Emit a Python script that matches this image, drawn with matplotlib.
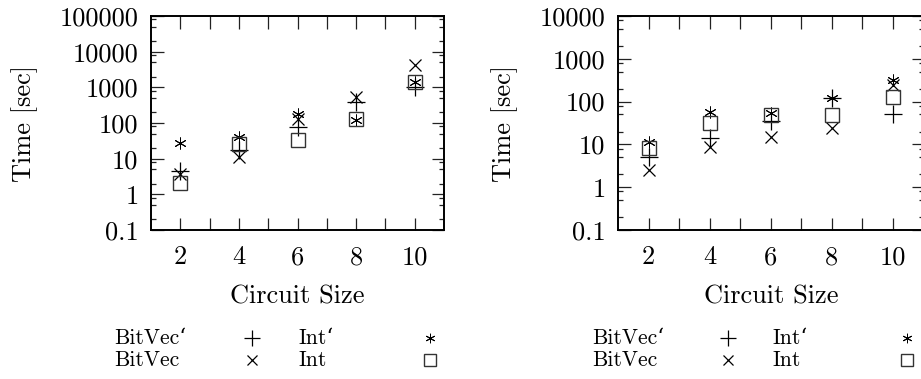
import matplotlib
matplotlib.use("Agg")
import matplotlib.pyplot as plt
from matplotlib.lines import Line2D
from matplotlib.ticker import FixedLocator, FuncFormatter, NullFormatter

plt.rcParams['font.family'] = ['cmr10', 'DejaVu Serif']
plt.rcParams['axes.formatter.use_mathtext'] = True

# circuit sizes on the x axis
sizes = [2, 4, 6, 8, 10]

# left panel, times in seconds
left_bitvec_p = [4.6, 17, 78, 390, 1030]
left_bitvec = [3.7, 11.3, 128, 540, 4150]
left_int_p = [28, 41, 184, 120, 1450]
left_int = [2.1, 26.6, 33, 128, 1420]

# right panel, times in seconds
right_bitvec_p = [5.1, 14.3, 35.6, 120, 51]
right_bitvec = [2.5, 8.8, 15, 23.6, 242]
right_int_p = [11.5, 58, 55, 124, 316]
right_int = [8.3, 32, 48, 48, 130]

series_names = ["BitVec‘", "BitVec", "Int‘", "Int"]
left_ymax = 100000
right_ymax = 10000

W, H = 921, 379
ASTERISK = (6, 2, 0)
styles = [
    dict(marker='+', markersize=13, markeredgewidth=0.9),
    dict(marker='x', markersize=9, markeredgewidth=0.9),
    dict(marker=ASTERISK, markersize=8.5, markeredgewidth=0.7),
    dict(marker='s', markersize=10.5, markeredgewidth=1.0,
         markerfacecolor='none', markeredgecolor='#333333'),
]
# legend marks are drawn a bit smaller than the plot marks
legend_scale = [0.85, 0.8, 0.8, 0.8]


def fmt_time(v, pos):
    if v < 1:
        return f"{v:g}"
    return f"{int(round(v))}"


def setup_axes(ax, ymax):
    ax.set_yscale('log')
    ax.set_xlim(1, 11)
    ax.set_ylim(0.1, ymax)
    ax.xaxis.set_major_locator(FixedLocator(range(2, 11)))
    ax.xaxis.set_major_formatter(FuncFormatter(lambda v, p: f"{int(v)}" if int(v) % 2 == 0 else ""))
    decades = [10.0 ** k for k in range(-1, 6) if 10.0 ** k <= ymax]
    ax.yaxis.set_major_locator(FixedLocator(decades))
    ax.yaxis.set_major_formatter(FuncFormatter(fmt_time))
    minors = [d * m for d in decades for m in (2, 5, 8) if d * m < ymax]
    ax.yaxis.set_minor_locator(FixedLocator(minors))
    ax.yaxis.set_minor_formatter(NullFormatter())
    ax.tick_params(axis='both', which='both', direction='in', top=True, right=True,
                   labelsize=19, width=0.9, color='#222222')
    ax.tick_params(axis='both', which='major', length=9)
    ax.tick_params(axis='y', which='minor', length=3.6)
    ax.tick_params(axis='x', which='major', pad=11)
    ax.tick_params(axis='y', which='major', pad=9)
    for s in ax.spines.values():
        s.set_linewidth(1.4)
    ax.set_xlabel("Circuit Size", fontsize=19, va='center')
    ax.set_ylabel("Time [sec]", fontsize=19, va='center')


def draw_panel(ax, data, ymax):
    for vals, st in zip(data, styles):
        kw = dict(st)
        kw.setdefault('markeredgecolor', 'black')
        ax.plot(sizes, vals, linestyle='none', color='black', clip_on=False, **kw)
    setup_axes(ax, ymax)


def draw_legend(fig, cols, rows):
    # table legend: name, mark, name, mark
    name_x1, mark_x1, name_x2, mark_x2 = cols
    cells = [(0, 0), (1, 0), (0, 1), (1, 1)]
    for (r, c), name, st, sc in zip(cells, series_names, styles, legend_scale):
        y = 1 - rows[r] / H
        nx_ = (name_x1 if c == 0 else name_x2) / W
        mx = (mark_x1 if c == 0 else mark_x2) / W
        fig.text(nx_, y, name, fontsize=15.5, ha='left', va='center')
        kw = dict(st)
        kw['markersize'] = kw['markersize'] * sc
        kw.setdefault('markeredgecolor', 'black')
        fig.add_artist(Line2D([mx], [y], linestyle='none', color='black',
                              transform=fig.transFigure, **kw))


fig = plt.figure(figsize=(W / 100, H / 100), dpi=100)

ax1 = fig.add_axes([151 / W, 149 / H, 293 / W, 214 / H])
draw_panel(ax1, [left_bitvec_p, left_bitvec, left_int_p, left_int], left_ymax)
ax1.yaxis.set_label_coords(-0.43, 0.5)
ax1.xaxis.set_label_coords(0.5, -0.31)

ax2 = fig.add_axes([618 / W, 149 / H, 305.5 / W, 214 / H])
draw_panel(ax2, [right_bitvec_p, right_bitvec, right_int_p, right_int], right_ymax)
ax2.yaxis.set_label_coords(-0.37, 0.5)
ax2.xaxis.set_label_coords(0.5, -0.31)

draw_legend(fig, (114, 252, 298, 430), (338, 360))
draw_legend(fig, (592, 728, 772, 907), (338, 360))

fig.savefig("out.png", dpi=100)
